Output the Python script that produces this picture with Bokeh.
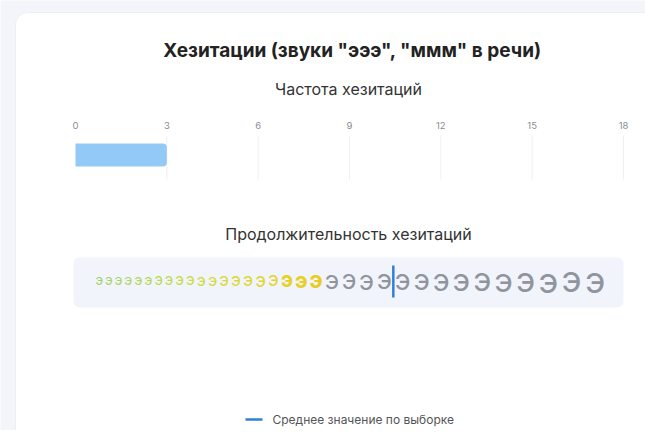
from bokeh.plotting import figure
from bokeh.models import Range1d
from bokeh.core.properties import value
from bokeh.embed import file_html
from bokeh.resources import INLINE

# ---------------- data ----------------
title = 'Хезитации (звуки "эээ", "ммм" в речи)'
freq_title = "Частота хезитаций"
dur_title = "Продолжительность хезитаций"
legend_label = "Среднее значение по выборке"

freq_ticks = [0, 3, 6, 9, 12, 15, 18]
freq_tick_labels = ["0", "3", "6", "9", "12", "15", "18"]
freq_value = [3]

dur_chars = ["э"] * 34
dur_sizes = [13.5, 13.5, 14, 14, 14.5, 14.5, 15, 15, 15.5, 15.5,
             16, 16.5, 17, 17.5, 18, 18.5, 19, 20.5, 21.5, 22.5,
             25.5, 26, 26.5, 27,
             28, 29, 30, 31, 32, 33, 34, 35, 35.5, 36]
dur_colors = ["#9fd16c", "#a4d268", "#a9d464", "#aed560", "#b3d65c", "#b8d758", "#bdd854", "#c2d950", "#c7da4c", "#ccda48",
              "#d0da44", "#d4da40", "#d7d93c", "#dad838", "#ddd734", "#e0d530", "#e3d42c", "#e6d126", "#e8cf22", "#eacc1e",
              "#8f949f", "#8f949f", "#8f949f", "#8f949f",
              "#8f949f", "#8f949f", "#8f949f", "#8f949f", "#8f949f", "#8f949f", "#8f949f", "#8f949f", "#8f949f", "#8f949f"]
dur_styles = ["normal"] * 17 + ["bold"] * 3 + ["normal"] * 14
mean_index = 24  # sample mean falls before the 25th mark

# ---------------- layout ----------------
W, H = 645, 430
FONT = "Inter"
p = figure(width=W, height=H, output_backend="svg", toolbar_location=None,
           x_range=Range1d(0, W), y_range=Range1d(H, 0), min_border=0)
p.axis.visible = False
p.grid.visible = False
p.outline_line_color = None
p.background_fill_color = "#f4f5fa"
p.border_fill_color = "#f4f5fa"

# card
p.quad(left=[15], right=[W + 20], top=[12], bottom=[H + 20], fill_color="white",
       line_color="#eceef4", line_width=1, border_radius=12)

# titles
p.text(x=[352], y=[50], text=[title], text_font=value(FONT), text_font_size="19px",
       text_font_style="bold", text_color="#222222", text_align="center", text_baseline="middle")
p.text(x=[348], y=[88], text=[freq_title], text_font=value(FONT), text_font_size="16px",
       text_color="#333333", text_align="center", text_baseline="middle")
p.text(x=[348], y=[233], text=[dur_title], text_font=value(FONT), text_font_size="16px",
       text_color="#333333", text_align="center", text_baseline="middle")

# frequency scale: 0 at px 75, 18 at px 623
x0_px, x1_px = 75, 623
ppu = (x1_px - x0_px) / (freq_ticks[-1] - freq_ticks[0])
p.extra_x_ranges = {"freq": Range1d(freq_ticks[0] - x0_px / ppu, freq_ticks[-1] + (W - x1_px) / ppu)}

p.segment(x0=freq_ticks[1:], x1=freq_ticks[1:], y0=[135] * 6, y1=[179] * 6,
          x_range_name="freq", line_color="#eff0f3", line_width=1)
p.text(x=freq_ticks, y=[125] * len(freq_ticks), text=freq_tick_labels, x_range_name="freq",
       text_font=value(FONT), text_font_size="9.5px", text_color="#8a8d94",
       text_align="center", text_baseline="middle")
p.hbar(y=[154.5], left=[0], right=freq_value, height=23, x_range_name="freq",
       fill_color="#93c9f7", line_color=None, border_radius=(0, 4, 4, 0))

# duration strip
p.quad(left=[73], right=[623], top=[257], bottom=[307], fill_color="#f1f4fa",
       line_color=None, border_radius=6)
lefts = []
cur = 95.0
gap = 1.0
for s in dur_sizes:
    lefts.append(cur)
    cur += 0.63 * s + gap
p.text(x=lefts, y=[279] * len(lefts), text=dur_chars,
       text_font=value(FONT), text_font_size=[f"{s}px" for s in dur_sizes],
       text_font_style=dur_styles, text_color=dur_colors,
       text_align="left", text_baseline="alphabetic")
mx = lefts[mean_index] - 1.5
p.segment(x0=[mx], x1=[mx], y0=[265], y1=[297], line_color="#2f7fd8", line_width=2.5)

# legend
p.segment(x0=[245], x1=[262], y0=[419], y1=[419], line_color="#2f7fd8", line_width=2.5)
p.text(x=[272], y=[419], text=[legend_label], text_font=value(FONT), text_font_size="12px",
       text_color="#555555", text_align="left", text_baseline="middle")

open("out.html", "w").write(file_html(p, INLINE))
